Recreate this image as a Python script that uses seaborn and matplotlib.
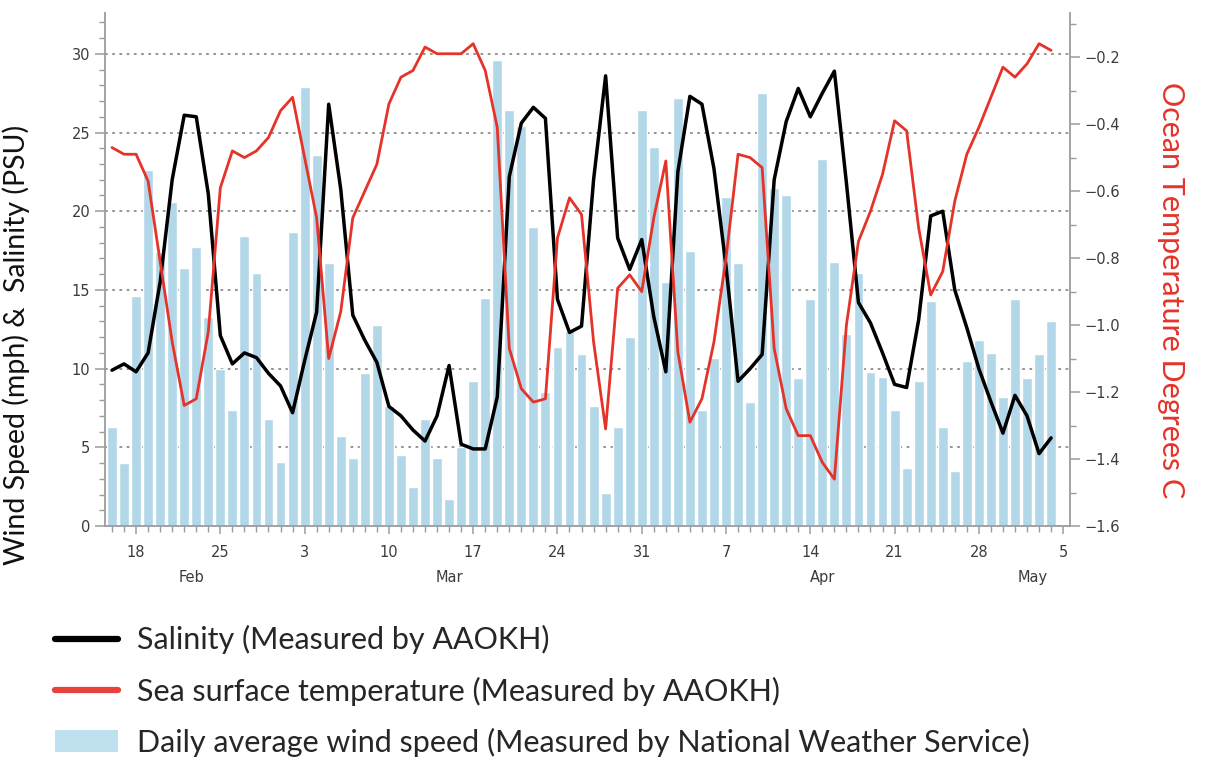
import numpy as np
import pandas as pd
import matplotlib
matplotlib.use("Agg")
import matplotlib.pyplot as plt
import matplotlib.dates as mdates
import matplotlib.transforms as mtransforms
from matplotlib.lines import Line2D
from matplotlib.patches import Patch
from matplotlib.ticker import MultipleLocator, FuncFormatter
import seaborn as sns

# daily values, 16 Feb - 4 May 2020
dates = pd.date_range("2020-02-16", "2020-05-04", freq="D")

wind_speed = [6.3, 4.0, 14.6, 22.6, 17.4, 20.6, 16.4, 17.7, 13.3, 10.0,
              7.4, 18.4, 16.1, 6.8, 4.1, 18.7, 27.9, 23.6, 16.7, 5.7,
              4.3, 9.7, 12.8, 7.6, 4.5, 2.5, 6.8, 4.3, 1.7, 5.0,
              9.2, 14.5, 29.6, 26.4, 25.4, 19.0, 8.5, 11.4, 12.4, 10.9,
              7.6, 2.1, 6.3, 12.0, 26.4, 24.1, 15.5, 27.2, 17.5, 7.4,
              10.7, 20.9, 16.7, 7.9, 27.5, 21.5, 21.0, 9.4, 14.4, 23.3,
              16.8, 12.2, 16.1, 9.8, 9.5, 7.4, 3.7, 9.2, 14.3, 6.3,
              3.5, 10.5, 11.8, 11.0, 8.2, 14.4, 9.4, 10.9, 13.0]

salinity = [9.9, 10.3, 9.8, 11.0, 15.5, 22.0, 26.1, 26.0, 21.1, 12.1,
            10.3, 11.0, 10.7, 9.7, 8.9, 7.2, 10.5, 13.6, 26.8, 21.4,
            13.4, 11.8, 10.4, 7.6, 7.0, 6.1, 5.4, 7.0, 10.2, 5.2,
            4.9, 4.9, 8.2, 22.2, 25.6, 26.6, 25.9, 14.4, 12.3, 12.7,
            22.0, 28.6, 18.3, 16.3, 18.2, 13.3, 9.8, 22.5, 27.3, 26.8,
            22.7, 16.5, 9.2, 10.0, 10.9, 22.0, 25.7, 27.8, 26.0, 27.5,
            28.9, 21.8, 14.2, 12.9, 11.0, 9.0, 8.8, 13.1, 19.7, 20.0,
            15.0, 12.6, 10.0, 7.9, 5.9, 8.3, 7.0, 4.6, 5.6]

sea_temp = [-0.47, -0.49, -0.49, -0.57, -0.81, -1.05, -1.24, -1.22, -1.02, -0.59,
            -0.48, -0.50, -0.48, -0.44, -0.36, -0.32, -0.50, -0.68, -1.10, -0.96,
            -0.68, -0.60, -0.52, -0.34, -0.26, -0.24, -0.17, -0.19, -0.19, -0.19,
            -0.16, -0.24, -0.41, -1.07, -1.19, -1.23, -1.22, -0.74, -0.62, -0.67,
            -1.05, -1.31, -0.89, -0.85, -0.90, -0.68, -0.51, -1.08, -1.29, -1.22,
            -1.05, -0.80, -0.49, -0.50, -0.53, -1.07, -1.25, -1.33, -1.33, -1.41,
            -1.46, -1.00, -0.75, -0.66, -0.55, -0.39, -0.42, -0.71, -0.91, -0.84,
            -0.63, -0.49, -0.41, -0.32, -0.23, -0.26, -0.22, -0.16, -0.18]

month_labels = ["Feb", "Mar", "Apr", "May"]
month_label_dates = ["2020-02-22 15:00", "2020-03-15 00:00", "2020-04-15 00:00", "2020-05-02 12:00"]

legend_labels = ["Salinity (Measured by AAOKH)",
                 "Sea surface temperature (Measured by AAOKH)",
                 "Daily average wind speed (Measured by National Weather Service)"]

df = pd.DataFrame({"day": mdates.date2num(dates), "wind": wind_speed,
                   "salinity": salinity, "temp": sea_temp})

bar_color = "#B2D7E8"
red = "#E5332A"
spine_grey = "#9C9C9C"
tick_grey = "#3C3C3C"

sns.set_theme(style="white")
plt.rcParams["font.family"] = ["DejaVu Sans"]

fig = plt.figure(figsize=(12.05, 7.58), dpi=100)
ax = fig.add_axes([0.0871, 0.306, 0.801, 0.677])

sns.barplot(data=df, x="day", y="wind", native_scale=True, color=bar_color,
            saturation=1, width=0.82, errorbar=None, ax=ax, zorder=2)
sns.lineplot(data=df, x="day", y="salinity", color="black", lw=2.5, ax=ax, zorder=3)

ax2 = ax.twinx()
sns.lineplot(data=df, x="day", y="temp", color=red, lw=2.0, ax=ax2)

xmin = mdates.date2num(pd.Timestamp("2020-02-15 10:00"))
xmax = mdates.date2num(pd.Timestamp("2020-05-05 14:00"))
ax.set_xlim(xmin, xmax)
ax.set_ylim(0, 32.6)
ax2.set_ylim(-1.6, -0.068)

# grid
ax.set_axisbelow(True)
ax.yaxis.grid(True, linestyle=(0, (1.5, 2.5)), color="#8c8c8c", lw=1.3)
ax.xaxis.grid(False)

# x ticks
ax.xaxis.set_major_locator(mdates.WeekdayLocator(byweekday=mdates.TU))
ax.xaxis.set_minor_locator(mdates.DayLocator())
ax.xaxis.set_major_formatter(FuncFormatter(lambda v, p: str(mdates.num2date(v).day)))
ax.tick_params(axis="x", which="major", length=6, width=1.1, color=spine_grey,
               labelsize=10.5, labelcolor=tick_grey, pad=8, direction="out", bottom=True)
ax.tick_params(axis="x", which="minor", length=4, width=1.0, color=spine_grey, bottom=True)

# left y ticks
ax.yaxis.set_major_locator(MultipleLocator(5))
ax.yaxis.set_minor_locator(MultipleLocator(1))
ax.tick_params(axis="y", which="major", length=7, width=1.1, color=spine_grey,
               labelsize=10.5, labelcolor=tick_grey, direction="out", left=True)
ax.tick_params(axis="y", which="minor", length=4, width=1.0, color=spine_grey, left=True)

# right y ticks
ax2.yaxis.set_major_locator(MultipleLocator(0.2))
ax2.yaxis.set_minor_locator(MultipleLocator(0.1))
ax2.yaxis.set_major_formatter(FuncFormatter(lambda v, p: f"{v:.1f}".replace("-", "\u2212")))
ax2.tick_params(axis="y", which="major", length=7, width=1.1, color=spine_grey,
                labelsize=10.5, labelcolor=tick_grey, direction="out", right=True)
ax2.tick_params(axis="y", which="minor", length=4, width=1.0, color=spine_grey, right=True)

for s in ["top", "right"]:
    ax.spines[s].set_visible(False)
for s in ["top", "left", "bottom"]:
    ax2.spines[s].set_visible(False)
for a, s in [(ax, "left"), (ax, "bottom"), (ax2, "right")]:
    a.spines[s].set_color(spine_grey)
    a.spines[s].set_linewidth(1.3)

ax.set_xlabel("")
ax.set_ylabel("Wind Speed (mph) &  Salinity (PSU)", fontsize=20.5, family="Lato", color="#111111")
ax.yaxis.set_label_coords(-0.078, 0.352)
ax2.set_ylabel("Ocean Temperature Degrees C", fontsize=22, family="Lato", color=red, rotation=270,
               va="center")
ax2.yaxis.set_label_coords(1.104, 0.46)

# month names under the day numbers
trans = mtransforms.blended_transform_factory(ax.transData, ax.transAxes)
for lab, d in zip(month_labels, month_label_dates):
    ax.text(mdates.date2num(pd.Timestamp(d)), -0.1, lab, transform=trans, ha="center",
            va="center", fontsize=10.5, color=tick_grey)

handles = [Line2D([0], [0], color="black", lw=4.5),
           Line2D([0], [0], color="#E8403A", lw=4.5),
           Patch(facecolor="#BEE0EF", edgecolor="none")]
fig.legend(handles, legend_labels, loc="upper left", bbox_to_anchor=(0.0456, 0.175),
           frameon=False, prop={"family": "Lato", "size": 22},
           handlelength=2.05, handleheight=0.7, handletextpad=0.62, labelspacing=0.72,
           borderpad=0, borderaxespad=0)

fig.savefig("out.png", dpi=100)
